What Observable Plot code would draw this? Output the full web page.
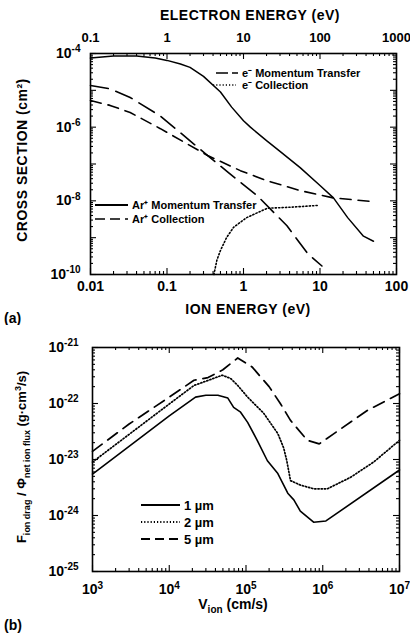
<!DOCTYPE html>
<html><head><meta charset="utf-8">
<script src="https://cdn.jsdelivr.net/npm/d3@7"></script>
<script src="https://cdn.jsdelivr.net/npm/@observablehq/plot@0.6"></script>
<style>
body{margin:0;background:#fff;}
#chart{width:410px;}
#chart svg{display:block;}
</style></head><body><div id="chart"></div>
<script>
// ---------- Panel (a) data ----------
// Ar+ momentum transfer (solid), vs ion energy (eV)
const arMomE = [0.01,0.02,0.04,0.07,0.1,0.15,0.2,0.3,0.5,0.7,1,1.23,2,3,5.5,10,15,23,37,50];
const arMomS = [7.5e-5,8.5e-5,8.5e-5,7.5e-5,6.5e-5,5.2e-5,4.2e-5,2.4e-5,9e-6,3.5e-6,1.5e-6,1e-6,4.3e-7,2.2e-7,8e-8,2.6e-8,1.2e-8,3.5e-9,1.1e-9,8e-10];
// Ar+ collection (dashed), vs ion energy (eV)
const arColE = [0.01,0.018,0.033,0.082,0.34,0.91,2.05,5.5,15,50];
const arColS = [5.3e-6,3.9e-6,2.5e-6,9.1e-7,1.7e-7,6.6e-8,3.5e-8,1.9e-8,1.2e-8,9.5e-9];
// e- momentum transfer (long dash), vs electron energy (eV)
const eMomE = [1.0e-1,0.18,0.33,0.82,3.4,6.3,15,37,69,106];
const eMomS = [1.35e-5,1.1e-5,6.4e-6,2e-6,1.7e-7,5.9e-8,1.4e-8,2.1e-9,3.7e-10,1.7e-10];
// e- collection (dotted), vs electron energy (eV)
const eColE = [4.1,4.5,5,6,7.4,11,20.5,41,93];
const eColS = [1e-10,2.5e-10,4.5e-10,1e-9,1.9e-9,3.5e-9,6.3e-9,6.7e-9,7.5e-9];

const ionTicks = [0.01,0.1,1,10,100];
const ionTickLabels = ["0.01","0.1","1","10","100"];
const elecTickLabels = ["0.1","1","10","100","1000"];
const sigmaTicks = [1e-10,1e-8,1e-6,1e-4];

// ---------- Panel (b) data ----------
const v1 = [1e3,1e4,2.2e4,3e4,4.3e4,5.8e4,6.9e4,8.5e4,1.05e5,1.4e5,1.9e5,2.6e5,3.5e5,4.2e5,5.1e5,7.6e5,1.1e6,1e7];
const f1 = [5.5e-24,6e-23,1.3e-22,1.4e-22,1.4e-22,1.25e-22,8.5e-23,7e-23,4.6e-23,2.2e-23,9.5e-24,5.6e-24,2.5e-24,1.9e-24,1.2e-24,7.6e-25,8e-25,6.5e-24];
const v2 = [1e3,1e4,2.1e4,3.5e4,4.9e4,6.3e4,7.8e4,1.05e5,1.7e5,2.6e5,3.1e5,3.4e5,3.8e5,5.1e5,7.6e5,1.15e6,2.3e6,4.6e6,1e7];
const f2 = [9e-24,9.8e-23,2.1e-22,2.7e-22,3.2e-22,2.8e-22,2.1e-22,1.3e-22,6.7e-23,2.9e-23,1.6e-23,9.5e-24,4.2e-24,3.5e-24,3e-24,3e-24,4.8e-24,9e-24,2.2e-23];
const v5 = [1e3,3e3,1e4,2.1e4,3.2e4,5e4,7.8e4,1.2e5,2e5,2.8e5,3.8e5,6.3e5,9e5,1.4e6,3.8e6,1e7];
const f5 = [1.4e-23,4.3e-23,1.3e-22,2.6e-22,2.9e-22,4e-22,6.5e-22,4.5e-22,2e-22,1e-22,5e-23,2.2e-23,1.9e-23,2.9e-23,7.5e-23,1.5e-22];
const sizeLabels = ["1 µm","2 µm","5 µm"];

const vTicks = [1e3,1e4,1e5,1e6,1e7];
const fTicks = [1e-25,1e-24,1e-23,1e-22,1e-21];

// ---------- helpers ----------
const rows = (xs, ys) => xs.map((x, i) => ({x, y: ys[i]}));
const minors = (k0, k1) => { const a = []; for (let k = k0; k <= k1; k++) for (let m = 2; m <= 9; m++) a.push(m * Math.pow(10, k)); return a; };
const decades = (k0, k1) => { const a = []; for (let k = k0; k <= k1; k++) a.push(Math.pow(10, k)); return a; };
const fmtPow = d => "10^" + Math.round(Math.log10(d));
const font = "'Liberation Sans', Arial, Helvetica, sans-serif";

function frameTicks(xs, ys, len, pw, ph) {
  const o = {stroke: "black", strokeWidth: 1.1};
  return [
    Plot.ruleX(xs, {...o, insetTop: ph - len}),
    Plot.ruleX(xs, {...o, insetBottom: ph - len}),
    Plot.ruleY(ys, {...o, insetRight: pw - len}),
    Plot.ruleY(ys, {...o, insetLeft: pw - len})
  ];
}

// ---------- Panel (a) ----------
const aW = 410, aH = 325, aML = 90, aMR = 14, aMT = 53, aMB = 51;
const aPW = aW - aML - aMR, aPH = aH - aMT - aMB;
const ionMap = new Map(ionTicks.map((t, i) => [t, ionTickLabels[i]]));
const elecMap = new Map(ionTicks.map((t, i) => [t, elecTickLabels[i]]));

const plotA = Plot.plot({
  width: aW, height: aH,
  marginLeft: aML, marginRight: aMR, marginTop: aMT, marginBottom: aMB,
  x: {type: "log", domain: [0.01, 100]},
  y: {type: "log", domain: [1e-10, 1e-4]},
  style: {fontFamily: font, fontSize: "14px", fontWeight: "bold", background: "white", color: "black"},
  marks: [
    ...frameTicks(decades(-2, 2), decades(-10, -4), 6, aPW, aPH),
    ...frameTicks(minors(-2, 1), minors(-10, -5), 3, aPW, aPH),
    Plot.frame({stroke: "black", strokeWidth: 1.6}),
    Plot.axisX({ticks: ionTicks, anchor: "bottom", tickSize: 0, tickPadding: 7, tickFormat: d => ionMap.get(d), label: null}),
    Plot.axisX({ticks: ionTicks, anchor: "top", tickSize: 0, tickPadding: 12, fontSize: 13, tickFormat: d => elecMap.get(d), label: null}),
    Plot.axisY({ticks: sigmaTicks, anchor: "left", tickSize: 0, tickPadding: 10, tickFormat: fmtPow, label: null}),
    Plot.line(rows(arMomE, arMomS), {x: "x", y: "y", stroke: "black", strokeWidth: 1.5}),
    Plot.line(rows(arColE, arColS), {x: "x", y: "y", stroke: "black", strokeWidth: 1.6, strokeDasharray: "11,7"}),
    Plot.line(rows(eMomE, eMomS), {x: d => d.x / 10, y: "y", stroke: "black", strokeWidth: 1.6, strokeDasharray: "18,8"}),
    Plot.line(rows(eColE, eColS), {x: d => d.x / 10, y: "y", stroke: "black", strokeWidth: 1.6, strokeDasharray: "1.2,2.2"})
  ]
});

// ---------- Panel (b) ----------
const bW = 410, bH = 308, bML = 92, bMR = 11, bMT = 22, bMB = 62;
const bPW = bW - bML - bMR, bPH = bH - bMT - bMB;

const plotB = Plot.plot({
  width: bW, height: bH,
  marginLeft: bML, marginRight: bMR, marginTop: bMT, marginBottom: bMB,
  x: {type: "log", domain: [1e3, 1e7]},
  y: {type: "log", domain: [1e-25, 1e-21]},
  style: {fontFamily: font, fontSize: "14px", fontWeight: "bold", background: "white", color: "black"},
  marks: [
    ...frameTicks(decades(3, 7), decades(-25, -21), 6, bPW, bPH),
    ...frameTicks(minors(3, 6), minors(-25, -22), 3, bPW, bPH),
    Plot.frame({stroke: "black", strokeWidth: 1.6}),
    Plot.axisX({ticks: vTicks, anchor: "bottom", tickSize: 0, tickPadding: 13, tickFormat: fmtPow, label: null}),
    Plot.axisY({ticks: fTicks, anchor: "left", tickSize: 0, tickPadding: 14, tickFormat: fmtPow, label: null}),
    Plot.line(rows(v1, f1), {x: "x", y: "y", stroke: "black", strokeWidth: 1.6}),
    Plot.line(rows(v2, f2), {x: "x", y: "y", stroke: "black", strokeWidth: 1.7, strokeDasharray: "1.2,2"}),
    Plot.line(rows(v5, f5), {x: "x", y: "y", stroke: "black", strokeWidth: 1.7, strokeDasharray: "12,7"})
  ]
});

const chart = document.getElementById("chart");
chart.append(plotA, plotB);

// superscript exponents in tick labels
for (const svg of [plotA, plotB]) {
  d3.select(svg).selectAll("text").each(function() {
    const t = this.textContent;
    const m = /^10\^(-?\d+)$/.exec(t);
    if (m) {
      const s = d3.select(this);
      s.text("10");
      s.append("tspan").attr("dy", "-0.55em").attr("font-size", "10px").text(m[1]);
    }
  });
}

// titles and legends
function txt(svg, x, y, str, opts = {}) {
  return d3.select(svg).append("text")
    .attr("x", x).attr("y", y)
    .attr("text-anchor", opts.anchor || "start")
    .attr("font-family", font).attr("font-weight", "bold")
    .attr("font-size", opts.size || 14)
    .attr("fill", "black")
    .text(str);
}
function seg(svg, x1, x2, y, dash, w = 1.6) {
  d3.select(svg).append("line").attr("x1", x1).attr("x2", x2).attr("y1", y).attr("y2", y)
    .attr("stroke", "black").attr("stroke-width", w).attr("stroke-dasharray", dash || null);
}

// Panel a text
txt(plotA, 250, 20, "ELECTRON ENERGY (eV)", {anchor: "middle", size: 14}).attr("letter-spacing", "0.5px");
txt(plotA, 248, 314, "ION ENERGY (eV)", {anchor: "middle", size: 14}).attr("letter-spacing", "0.5px");
txt(plotA, 4, 323, "(a)", {size: 14});
d3.select(plotA).append("text")
  .attr("transform", "translate(27,160) rotate(-90)")
  .attr("text-anchor", "middle").attr("font-family", font).attr("font-weight", "bold")
  .attr("font-size", 14).attr("letter-spacing", "0.5px").text("CROSS SECTION (cm²)");

// Panel a legends
seg(plotA, 216, 238, 73, "12,4");
txt(plotA, 242, 77, "e⁻ Momentum Transfer", {size: 11});
seg(plotA, 213, 236, 85, "1.2,2");
txt(plotA, 242, 89, "e⁻ Collection", {size: 11});
seg(plotA, 95, 128, 205, null, 2);
txt(plotA, 132, 209, "Ar⁺ Momentum Transfer", {size: 11});
seg(plotA, 95, 128, 219, "10,5");
txt(plotA, 132, 223, "Ar⁺ Collection", {size: 11});

// Panel b text
txt(plotB, 4, 305, "(b)", {size: 14});
{
  const t = d3.select(plotB).append("text")
    .attr("x", 233).attr("y", 284).attr("text-anchor", "middle")
    .attr("font-family", font).attr("font-weight", "bold").attr("font-size", 14);
  t.append("tspan").text("V");
  t.append("tspan").attr("dy", 4).attr("font-size", 10).text("ion");
  t.append("tspan").attr("dy", -4).text(" (cm/s)");
}
{
  const t = d3.select(plotB).append("text")
    .attr("transform", "translate(26,132) rotate(-90)").attr("text-anchor", "middle")
    .attr("font-family", font).attr("font-weight", "bold").attr("font-size", 13);
  t.append("tspan").text("F");
  t.append("tspan").attr("dy", 4).attr("font-size", 9).text("ion drag");
  t.append("tspan").attr("dy", -4).text(" / Φ");
  t.append("tspan").attr("dy", 4).attr("font-size", 9).text("net ion flux");
  t.append("tspan").attr("dy", -4).text(" (g·cm");
  t.append("tspan").attr("dy", -5).attr("font-size", 9).text("3");
  t.append("tspan").attr("dy", 5).text("/s)");
}
// Panel b legend
seg(plotB, 141, 180, 180, null, 1.8);
txt(plotB, 184, 185, sizeLabels[0], {size: 13});
seg(plotB, 141, 180, 197, "1.2,2", 1.8);
txt(plotB, 184, 202, sizeLabels[1], {size: 13});
seg(plotB, 141, 180, 214, "9,5", 1.8);
txt(plotB, 184, 219, sizeLabels[2], {size: 13});
</script>
</body></html>
